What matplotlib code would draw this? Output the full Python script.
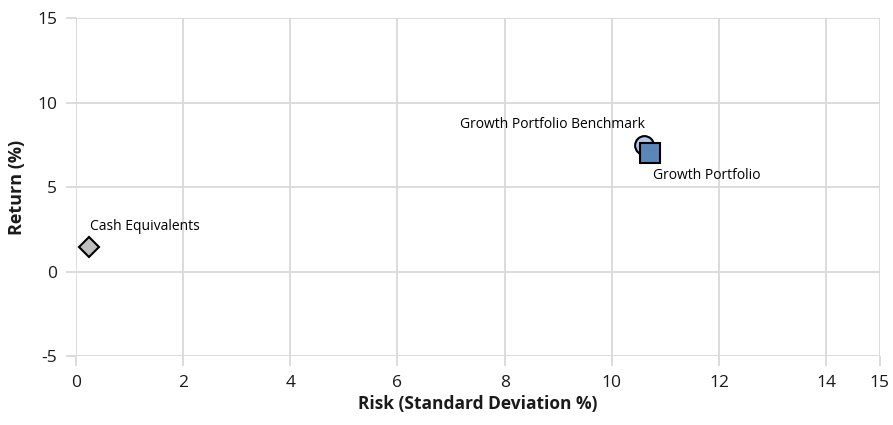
import matplotlib.pyplot as plt

plt.rcParams['font.family'] = ['Open Sans', 'DejaVu Sans']

# risk / return values
names = ["Cash Equivalents", "Growth Portfolio Benchmark", "Growth Portfolio"]
risk = [0.24, 10.61, 10.72]
ret = [1.46, 7.49, 7.01]

x_ticks = [0, 2, 4, 6, 8, 10, 12, 14, 15]
y_ticks = [-5, 0, 5, 10, 15]

fig = plt.figure(figsize=(8.93, 4.25), dpi=100)
ax = fig.add_axes([0.0851, 0.1624, 0.900, 0.795])

styles = [
    dict(marker='D', color='#BFBFBF', ms=10),
    dict(marker='o', color='#B4C7E7', ms=13.5),
    dict(marker='s', color='#5B86B8', ms=14),
]
for i in range(len(names)):
    st = styles[i]
    ax.plot(risk[i], ret[i], linestyle='none', marker=st['marker'], ms=st['ms'],
            markerfacecolor=st['color'], markeredgecolor='black', markeredgewidth=1.5,
            zorder=3 + i)

# point labels
ax.annotate(names[0], (risk[0], ret[0]), xytext=(1, 15), textcoords='offset points',
            fontsize=10, ha='left', va='center')
ax.annotate(names[1], (risk[1], ret[1]), xytext=(0, 15), textcoords='offset points',
            fontsize=10, ha='right', va='center')
ax.annotate(names[2], (risk[2], ret[2]), xytext=(2, -16), textcoords='offset points',
            fontsize=10, ha='left', va='center')

ax.set_xlim(0, 15)
ax.set_ylim(-5, 15)
ax.set_xticks(x_ticks)
ax.set_yticks(y_ticks)
ax.set_xticklabels([str(t) for t in x_ticks])
ax.set_yticklabels([str(t) for t in y_ticks])
ax.grid(True, color='#D9D9D9', linewidth=1.3)
ax.set_axisbelow(True)
for s in ax.spines.values():
    s.set_visible(False)
ax.tick_params(axis='both', colors='#D9D9D9', labelcolor='#1a1a1a', labelsize=12.5,
               length=7.5, width=1.3)
ax.tick_params(axis='x', pad=6)
ax.tick_params(axis='y', pad=6)

ax.set_xlabel("Risk (Standard Deviation %)", fontsize=12.5, fontweight='bold', color='#1a1a1a',
              labelpad=3)
ax.set_ylabel("Return (%)", fontsize=13, fontweight='bold', color='#1a1a1a', labelpad=8)

fig.savefig("out.png", dpi=100)
